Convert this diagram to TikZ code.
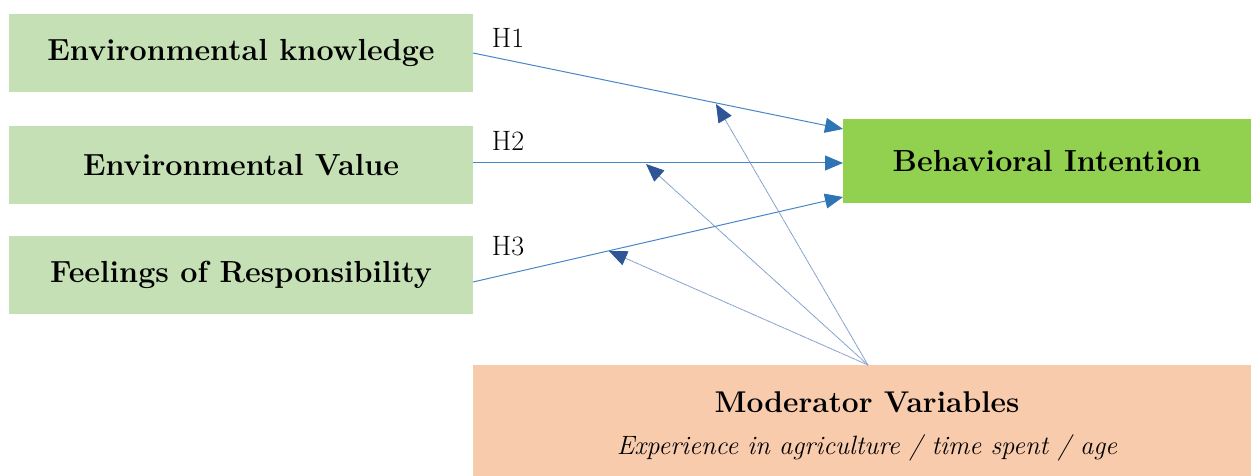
\documentclass[tikz,border=0pt]{standalone}
\usetikzlibrary{arrows.meta}
\definecolor{lightgreen}{HTML}{C5E0B4}
\definecolor{brightgreen}{HTML}{92D050}
\definecolor{peach}{HTML}{F8CBAD}
\definecolor{pathblue}{HTML}{4A85C6}
\definecolor{tipblue}{HTML}{2E75B6}
\definecolor{modblue}{HTML}{2F5597}
\definecolor{modline}{HTML}{7E9CCB}
\begin{document}
\begin{tikzpicture}[x=1pt,y=-1pt,
  boxfont/.style={font=\fontsize{30.5}{34}\selectfont\bfseries},
  factor/.style={boxfont,fill=lightgreen,minimum width=464pt,minimum height=78pt,inner sep=0pt},
  hyp/.style={draw=pathblue,line width=1pt,-{Triangle[length=18pt,width=15pt,color=tipblue]}},
  mod/.style={draw=modline,line width=0.9pt,dash pattern=on 1.2pt off 0.5pt,
    -{Triangle[length=18pt,width=15pt,color=modblue]}},
  hlabel/.style={font=\fontsize{28}{32}\selectfont,inner sep=0pt}]
\useasboundingbox (0,0) rectangle (1251,476);
% predictor boxes
\node[factor] (ek) at (241,53) {Environmental knowledge};
\node[factor] (ev) at (241,165) {Environmental Value};
\node[factor] (fr) at (241,274.5) {Feelings of Responsibility};
% outcome box
\node[boxfont,fill=brightgreen,minimum width=408pt,minimum height=84pt,inner sep=0pt]
  (bi) at (1047,161) {Behavioral Intention};
% moderator box
\node[fill=peach,minimum width=778pt,minimum height=111pt,inner sep=0pt] (mv) at (862,420.5) {};
\node[font=\fontsize{30}{34}\selectfont\bfseries,inner sep=0pt] (mvt) at (867,402) {Moderator Variables};
\node[font=\fontsize{26.5}{30}\selectfont\itshape,inner sep=0pt] (mvs) at (867,448) {Experience in agriculture / time spent / age};
% hypothesised paths
\coordinate (s1) at (473,53);
\coordinate (e1) at (843,129);
\coordinate (s2) at (473,163);
\coordinate (e2) at (843,163);
\coordinate (s3) at (473,282);
\coordinate (e3) at (843,197);
\draw[hyp] (s1) -- (e1);
\draw[hyp] (s2) -- (e2);
\draw[hyp] (s3) -- (e3);
\node[hlabel] (h1) at (508,38) {H1};
\node[hlabel] (h2) at (508,141) {H2};
\node[hlabel] (h3) at (508,246) {H3};
% moderating effects
\coordinate (m0) at (868,365);
\coordinate (m1) at (716,104);
\coordinate (m2) at (646,164);
\coordinate (m3) at (609,251);
\draw[mod] (m0) -- (m1);
\draw[mod] (m0) -- (m2);
\draw[mod] (m0) -- (m3);
\end{tikzpicture}
\end{document}
